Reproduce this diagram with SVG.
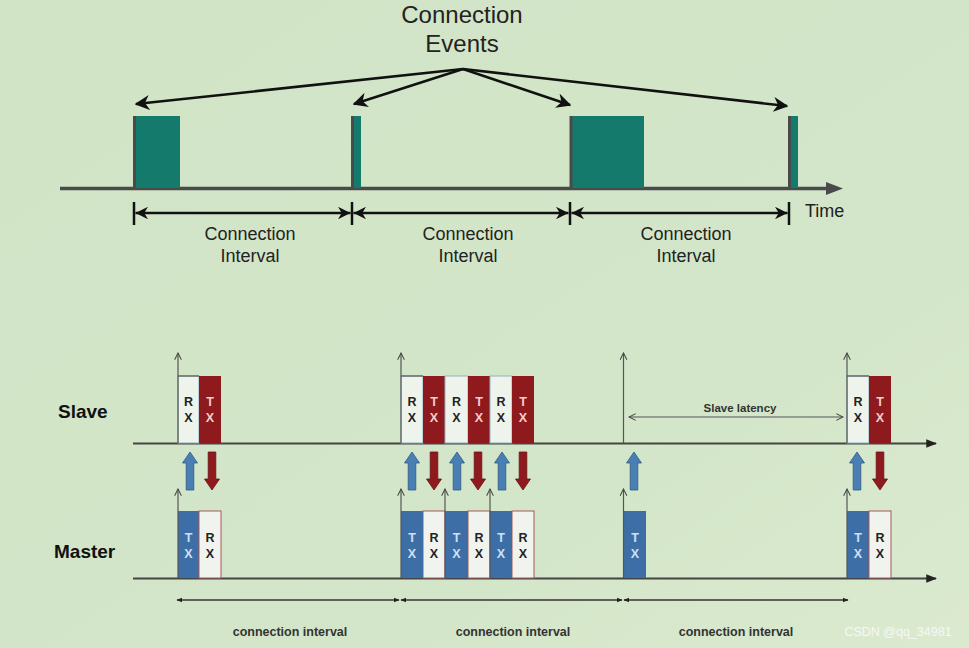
<svg xmlns="http://www.w3.org/2000/svg" xmlns:xlink="http://www.w3.org/1999/xlink" width="969" height="648" viewBox="0 0 969 648">
<defs>
<linearGradient id="bg" x1="0" y1="0" x2="1" y2="1">
<stop offset="0" stop-color="#d2e4c6"/>
<stop offset="0.7" stop-color="#d4e6c9"/>
<stop offset="1" stop-color="#dbeacf"/>
</linearGradient>
<marker id="bigHead" viewBox="0 0 10 10" refX="9" refY="5" markerWidth="6" markerHeight="6" markerUnits="strokeWidth" orient="auto-start-reverse">
<path d="M0,0 L10,5 L0,10 L3,5 Z" fill="#111"/>
</marker>
<marker id="dimHead" viewBox="0 0 10 10" refX="10" refY="5" markerWidth="6.5" markerHeight="5" markerUnits="strokeWidth" orient="auto-start-reverse">
<path d="M0,0 L10,5 L0,10 L3,5 Z" fill="#111"/>
</marker>
<marker id="thinHead" viewBox="0 0 10 10" refX="9" refY="5" markerWidth="7" markerHeight="7" markerUnits="strokeWidth" orient="auto-start-reverse">
<path d="M1,1 L9,5 L1,9" fill="none" stroke="#444" stroke-width="1.2"/>
</marker>
<marker id="axisHead" viewBox="0 0 10 10" refX="9" refY="5" markerWidth="6" markerHeight="6" markerUnits="strokeWidth" orient="auto">
<path d="M0,1 L10,5 L0,9 Z" fill="#222"/>
</marker>
<marker id="smallHead" viewBox="0 0 10 10" refX="9" refY="5" markerWidth="3.5" markerHeight="3.5" markerUnits="strokeWidth" orient="auto-start-reverse">
<path d="M0,1 L10,5 L0,9 Z" fill="#222"/>
</marker>
<path id="upArrow" d="M0,0 L7.5,11 L3.8,11 L3.8,38 L-3.8,38 L-3.8,11 L-7.5,11 Z" fill="#4a7fb3" stroke="#2e5a88" stroke-width="0.8"/>
<path id="downArrow" d="M-3.8,0 L3.8,0 L3.8,27 L7.5,27 L0,38 L-7.5,27 L-3.8,27 Z" fill="#8e1a1e" stroke="#6a1014" stroke-width="0.8"/>
</defs>
<style>
.t{font-family:"Liberation Sans",Arial,sans-serif;fill:#222;}
.big{font-size:24px;}
.mid{font-size:18px;}
.lbl{font-size:19px;font-weight:bold;fill:#111;}
.ci{font-size:12.5px;font-weight:bold;fill:#333;}
.sl{font-size:11.5px;font-weight:bold;fill:#333;}
.bx{font-size:12.5px;font-weight:bold;text-anchor:middle;}
.teal{fill:#147b6c;}
.edge{stroke:#4a4a4a;stroke-width:3;}
.axis{stroke:#4a4a4a;stroke-width:3.5;fill:none;}
.dim{stroke:#111;stroke-width:2.5;fill:none;}
.tick{stroke:#111;stroke-width:2.5;}
.baxis{stroke:#444;stroke-width:1.8;fill:none;}
.vline{stroke:#555;stroke-width:1.2;fill:none;}
.bdim{stroke:#333;stroke-width:1.7;fill:none;}
.srx{fill:#eef4ec;stroke:#8fb1c6;stroke-width:1;}
.mrx{fill:#f1f4ee;stroke:#a5585a;stroke-width:1;}
.stx{fill:#8e1a1e;}
.mtx{fill:#3d6fa6;}
.lr{fill:#f2cfcf;}
.lb{fill:#cfe0f2;}
</style>
<rect width="969" height="648" fill="url(#bg)"/>

<!-- Top section -->
<g id="title">
<text class="t big" x="462" y="23" text-anchor="middle">Connection</text>
<text class="t big" x="462" y="52" text-anchor="middle">Events</text>
</g>
<g id="timeAxis">
<line class="axis" x1="60" y1="188.5" x2="828" y2="188.5"/>
<path d="M826,182 L843,188.5 L826,195 Z" fill="#4a4a4a"/>
<text class="t mid" x="805" y="217">Time</text>
</g>
<g id="event1">
<rect class="teal" x="135" y="116" width="45" height="72"/>
<line class="edge" x1="134.5" y1="116" x2="134.5" y2="188"/>
</g>
<g id="event2">
<rect class="teal" x="353" y="116" width="8" height="72"/>
<line class="edge" x1="352.5" y1="116" x2="352.5" y2="188"/>
</g>
<g id="event3">
<rect class="teal" x="572" y="116" width="72" height="72"/>
<line class="edge" x1="571" y1="116" x2="571" y2="188"/>
</g>
<g id="event4">
<rect class="teal" x="790" y="116" width="8" height="72"/>
<line class="edge" x1="789.5" y1="116" x2="789.5" y2="188"/>
</g>
<g id="intervalLabels">
<text class="t mid" x="250" y="240" text-anchor="middle">Connection</text>
<text class="t mid" x="250" y="262" text-anchor="middle">Interval</text>
<text class="t mid" x="468" y="240" text-anchor="middle">Connection</text>
<text class="t mid" x="468" y="262" text-anchor="middle">Interval</text>
<text class="t mid" x="686" y="240" text-anchor="middle">Connection</text>
<text class="t mid" x="686" y="262" text-anchor="middle">Interval</text>
</g>

<!-- Bottom section -->
<g id="slaveLabel"><text class="t lbl" x="58" y="418">Slave</text></g>
<g id="masterLabel"><text class="t lbl" x="54" y="558">Master</text></g>
<g id="slaveAxis">
<line class="baxis" x1="133" y1="443.5" x2="936" y2="443.5" marker-end="url(#axisHead)"/>
</g>
<g id="masterAxis">
<line class="baxis" x1="133" y1="578.5" x2="936" y2="578.5" marker-end="url(#axisHead)"/>
</g>

<!-- Slave blocks -->
<g id="slave1">
<rect class="srx" x="178" y="376" width="21" height="67"/>
<rect class="stx" x="199" y="376" width="22" height="67"/>
<text class="t bx" x="188.5" y="406">R</text><text class="t bx" x="188.5" y="422">X</text>
<text class="t bx lr" x="210" y="406">T</text><text class="t bx lr" x="210" y="422">X</text>
</g>
<g id="slave2">
<rect class="srx" x="401" y="376" width="22" height="67"/>
<rect class="stx" x="423" y="376" width="22" height="67"/>
<rect class="srx" x="445" y="376" width="23" height="67"/>
<rect class="stx" x="468" y="376" width="22" height="67"/>
<rect class="srx" x="490" y="376" width="22" height="67"/>
<rect class="stx" x="512" y="376" width="22" height="67"/>
<text class="t bx" x="412" y="406">R</text><text class="t bx" x="412" y="422">X</text>
<text class="t bx lr" x="434" y="406">T</text><text class="t bx lr" x="434" y="422">X</text>
<text class="t bx" x="456.5" y="406">R</text><text class="t bx" x="456.5" y="422">X</text>
<text class="t bx lr" x="479" y="406">T</text><text class="t bx lr" x="479" y="422">X</text>
<text class="t bx" x="501" y="406">R</text><text class="t bx" x="501" y="422">X</text>
<text class="t bx lr" x="523" y="406">T</text><text class="t bx lr" x="523" y="422">X</text>
</g>
<g id="slaveLatency">
<line class="vline" x1="629" y1="417" x2="843" y2="417" marker-start="url(#thinHead)" marker-end="url(#thinHead)"/>
<text class="t sl" x="740" y="412" text-anchor="middle">Slave latency</text>
</g>
<g id="slave4">
<rect class="srx" x="847" y="376" width="22" height="67"/>
<rect class="stx" x="869" y="376" width="22" height="67"/>
<text class="t bx" x="858" y="406">R</text><text class="t bx" x="858" y="422">X</text>
<text class="t bx lr" x="880" y="406">T</text><text class="t bx lr" x="880" y="422">X</text>
</g>

<!-- Master blocks -->
<g id="master1">
<rect class="mtx" x="178" y="511" width="21" height="67"/>
<rect class="mrx" x="199" y="511" width="22" height="67"/>
<text class="t bx lb" x="188.5" y="542">T</text><text class="t bx lb" x="188.5" y="558">X</text>
<text class="t bx" x="210" y="542">R</text><text class="t bx" x="210" y="558">X</text>
</g>
<g id="master2">
<rect class="mrx" x="423" y="511" width="22" height="67"/>
<rect class="mrx" x="468" y="511" width="22" height="67"/>
<rect class="mrx" x="512" y="511" width="22" height="67"/>
<rect class="mtx" x="401" y="511" width="22" height="67"/>
<rect class="mtx" x="445" y="511" width="23" height="67"/>
<rect class="mtx" x="490" y="511" width="22" height="67"/>
<text class="t bx lb" x="412" y="542">T</text><text class="t bx lb" x="412" y="558">X</text>
<text class="t bx" x="434" y="542">R</text><text class="t bx" x="434" y="558">X</text>
<text class="t bx lb" x="456.5" y="542">T</text><text class="t bx lb" x="456.5" y="558">X</text>
<text class="t bx" x="479" y="542">R</text><text class="t bx" x="479" y="558">X</text>
<text class="t bx lb" x="501" y="542">T</text><text class="t bx lb" x="501" y="558">X</text>
<text class="t bx" x="523" y="542">R</text><text class="t bx" x="523" y="558">X</text>
</g>
<g id="master3">
<rect class="mtx" x="624" y="511" width="22" height="67"/>
<text class="t bx lb" x="635" y="542">T</text><text class="t bx lb" x="635" y="558">X</text>
</g>
<g id="master4">
<rect class="mtx" x="847" y="511" width="22" height="67"/>
<rect class="mrx" x="869" y="511" width="22" height="67"/>
<text class="t bx lb" x="858" y="542">T</text><text class="t bx lb" x="858" y="558">X</text>
<text class="t bx" x="880" y="542">R</text><text class="t bx" x="880" y="558">X</text>
</g>

<g id="bottomIntervalLabels">
<text class="t ci" x="290" y="636" text-anchor="middle">connection interval</text>
<text class="t ci" x="513" y="636" text-anchor="middle">connection interval</text>
<text class="t ci" x="736" y="636" text-anchor="middle">connection interval</text>
</g>
<g id="watermark">
<text x="898" y="636" text-anchor="middle" font-family="'Liberation Sans',Arial,sans-serif" font-size="12.5" fill="#f7f7f5">CSDN @qq_34981</text>
</g>

<!-- Connectors -->
<g id="connectors">
<line class="dim" x1="463" y1="69" x2="136" y2="104" marker-end="url(#bigHead)"/>
<line class="dim" x1="463" y1="69" x2="354" y2="104" marker-end="url(#bigHead)"/>
<line class="dim" x1="463" y1="69" x2="570" y2="105" marker-end="url(#bigHead)"/>
<line class="dim" x1="463" y1="69" x2="787" y2="106" marker-end="url(#bigHead)"/>
<line class="tick" x1="134" y1="202" x2="134" y2="225"/>
<line class="tick" x1="352" y1="202" x2="352" y2="225"/>
<line class="tick" x1="570" y1="202" x2="570" y2="225"/>
<line class="tick" x1="789" y1="202" x2="789" y2="225"/>
<line class="dim" x1="135.5" y1="213" x2="350.5" y2="213" marker-start="url(#dimHead)" marker-end="url(#dimHead)"/>
<line class="dim" x1="353.5" y1="213" x2="568.5" y2="213" marker-start="url(#dimHead)" marker-end="url(#dimHead)"/>
<line class="dim" x1="571.5" y1="213" x2="787.5" y2="213" marker-start="url(#dimHead)" marker-end="url(#dimHead)"/>
<line class="vline" x1="178" y1="443" x2="178" y2="353" marker-end="url(#thinHead)"/>
<line class="vline" x1="401" y1="443" x2="401" y2="353" marker-end="url(#thinHead)"/>
<line class="vline" x1="623.5" y1="443" x2="623.5" y2="353" marker-end="url(#thinHead)"/>
<line class="vline" x1="847" y1="443" x2="847" y2="353" marker-end="url(#thinHead)"/>
<line class="vline" x1="178" y1="376" x2="199" y2="376"/>
<line class="vline" x1="401" y1="376" x2="423" y2="376"/>
<line class="vline" x1="847" y1="376" x2="869" y2="376"/>
<line class="vline" x1="178" y1="578" x2="178" y2="489" marker-end="url(#thinHead)"/>
<line class="vline" x1="401" y1="578" x2="401" y2="489" marker-end="url(#thinHead)"/>
<line class="vline" x1="445" y1="578" x2="445" y2="489" marker-end="url(#thinHead)"/>
<line class="vline" x1="490" y1="578" x2="490" y2="489" marker-end="url(#thinHead)"/>
<line class="vline" x1="623.5" y1="578" x2="623.5" y2="489" marker-end="url(#thinHead)"/>
<line class="vline" x1="847" y1="578" x2="847" y2="489" marker-end="url(#thinHead)"/>
<use xlink:href="#upArrow" x="190" y="452"/>
<use xlink:href="#upArrow" x="412" y="452"/>
<use xlink:href="#upArrow" x="457" y="452"/>
<use xlink:href="#upArrow" x="502" y="452"/>
<use xlink:href="#upArrow" x="634" y="452"/>
<use xlink:href="#upArrow" x="857" y="452"/>
<use xlink:href="#downArrow" x="212" y="452"/>
<use xlink:href="#downArrow" x="434" y="452"/>
<use xlink:href="#downArrow" x="478" y="452"/>
<use xlink:href="#downArrow" x="523" y="452"/>
<use xlink:href="#downArrow" x="880" y="452"/>
<line class="bdim" x1="177" y1="600" x2="399" y2="600" marker-start="url(#smallHead)" marker-end="url(#smallHead)"/>
<line class="bdim" x1="401" y1="600" x2="622" y2="600" marker-start="url(#smallHead)" marker-end="url(#smallHead)"/>
<line class="bdim" x1="624" y1="600" x2="848" y2="600" marker-start="url(#smallHead)" marker-end="url(#smallHead)"/>
</g>
</svg>
